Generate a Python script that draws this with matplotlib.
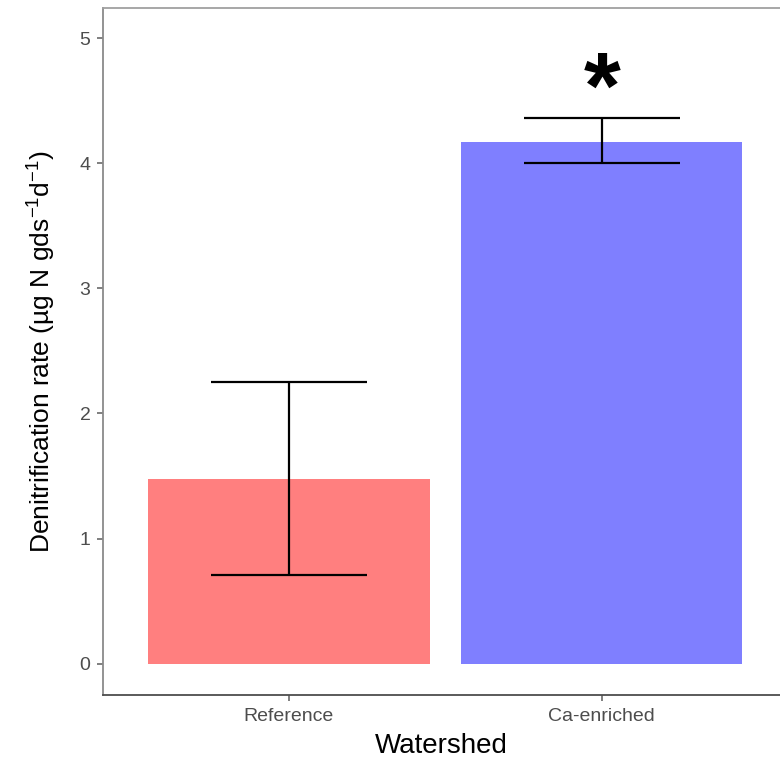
import matplotlib.pyplot as plt

plt.rcParams['font.family'] = ['Liberation Sans', 'DejaVu Sans']

watershed = ["Reference", "Ca-enriched"]
rate = [1.48, 4.17]
err_low = [0.77, 0.17]
err_high = [0.77, 0.19]
bar_colors = ["#FF7F7F", "#7F7FFF"]

fig = plt.figure(figsize=(7.8, 7.7), dpi=100)
ax = fig.add_axes([0.132, 0.0974, 0.868, 0.8922])

x = [1, 2]
ax.bar(x, rate, width=0.9, color=bar_colors, zorder=1)
ax.errorbar(x, rate, yerr=[err_low, err_high], fmt="none", ecolor="black",
            elinewidth=1.6, capsize=56, capthick=1.6, zorder=2)

# significance marker above the Ca-enriched bar
ax.text(2, rate[1] + err_high[1], "*", ha="center", va="baseline",
        fontsize=68, fontweight="bold", color="black")

ax.set_xlim(0.406, 2.57)
ax.set_ylim(-0.25, 5.24)
ax.set_xticks(x)
ax.set_xticklabels(watershed)
ax.set_yticks([0, 1, 2, 3, 4, 5])

ax.spines["right"].set_visible(False)
ax.spines["left"].set_color("#8a8a8a")
ax.spines["top"].set_color("#a0a0a0")
ax.spines["bottom"].set_color("#4d4d4d")
for s in ax.spines.values():
    s.set_linewidth(1.3)

ax.tick_params(axis="both", length=4, width=1.2, color="#6a6a6a",
               labelcolor="#4d4d4d", labelsize=14, pad=5)

ax.set_xlabel("Watershed", fontsize=20, labelpad=6)
ax.set_ylabel(r"Denitrification rate (µg N gds$^{\mathregular{-1}}$d$^{\mathregular{-1}}$)",
              fontsize=19, labelpad=16)

fig.savefig("out.png", dpi=100)
